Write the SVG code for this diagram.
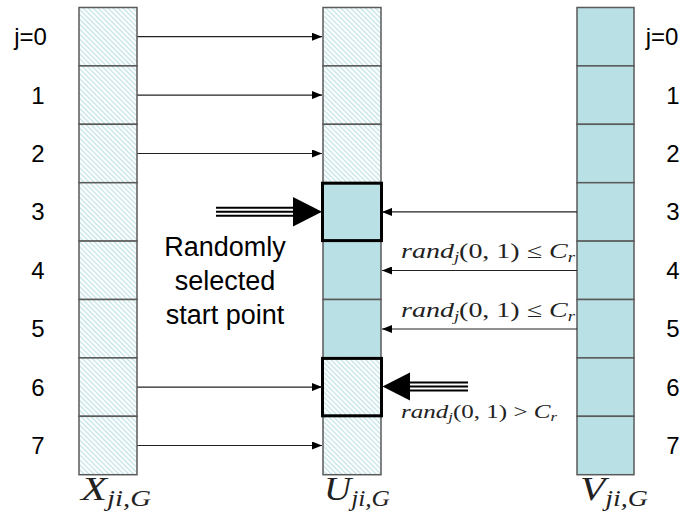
<svg xmlns="http://www.w3.org/2000/svg" width="688" height="522" viewBox="0 0 688 522">
<style>
.cell{stroke:#5a5a5a;stroke-width:1.5}
.h{fill:url(#hatch)}
.s{fill:#b9e0e4}
.thick{fill:none;stroke:#000;stroke-width:3}
.lab{font-family:"Liberation Sans",Arial,sans-serif;font-size:24px;fill:#000;text-anchor:middle}
.big{font-family:"Liberation Sans",Arial,sans-serif;font-size:27px;fill:#000;text-anchor:middle}
.conn{stroke:#222;stroke-width:1.2;fill:none;marker-end:url(#ah)}
.m{font-family:"Liberation Serif","Times New Roman",serif;fill:#222}
.i{font-style:italic}
</style>
<defs>
<pattern id="hatch" patternUnits="userSpaceOnUse" width="3.5" height="3.5" patternTransform="rotate(-45)">
<rect width="3.5" height="3.5" fill="#ffffff"/>
<rect x="0" y="0" width="1.3" height="3.5" fill="#c3e4e8"/>
</pattern>
<marker id="ah" markerWidth="10" markerHeight="8" refX="10" refY="4" orient="auto" markerUnits="userSpaceOnUse">
<path d="M0,0 L10,4 L0,8 Z" fill="#000"/>
</marker>
</defs>

<g id="col-X">
<rect class="cell h" x="79" y="7.5" width="58" height="58.4"/>
<rect class="cell h" x="79" y="65.9" width="58" height="58.4"/>
<rect class="cell h" x="79" y="124.3" width="58" height="58.4"/>
<rect class="cell h" x="79" y="182.7" width="58" height="58.4"/>
<rect class="cell h" x="79" y="241.1" width="58" height="58.4"/>
<rect class="cell h" x="79" y="299.5" width="58" height="58.4"/>
<rect class="cell h" x="79" y="357.9" width="58" height="58.4"/>
<rect class="cell h" x="79" y="416.3" width="58" height="58.4"/>
</g>

<g id="col-U">
<rect class="cell h" x="323" y="7.5" width="58" height="58.4"/>
<rect class="cell h" x="323" y="65.9" width="58" height="58.4"/>
<rect class="cell h" x="323" y="124.3" width="58" height="58.4"/>
<rect class="cell s" x="323" y="182.7" width="58" height="58.4"/>
<rect class="cell s" x="323" y="241.1" width="58" height="58.4"/>
<rect class="cell s" x="323" y="299.5" width="58" height="58.4"/>
<rect class="cell h" x="323" y="357.9" width="58" height="58.4"/>
<rect class="cell h" x="323" y="416.3" width="58" height="58.4"/>
<rect class="thick" x="322.5" y="183.2" width="59" height="57.4"/>
<rect class="thick" x="322.5" y="358.4" width="59" height="57.4"/>
</g>

<g id="col-V">
<rect class="cell s" x="577" y="7.5" width="57" height="58.4"/>
<rect class="cell s" x="577" y="65.9" width="57" height="58.4"/>
<rect class="cell s" x="577" y="124.3" width="57" height="58.4"/>
<rect class="cell s" x="577" y="182.7" width="57" height="58.4"/>
<rect class="cell s" x="577" y="241.1" width="57" height="58.4"/>
<rect class="cell s" x="577" y="299.5" width="57" height="58.4"/>
<rect class="cell s" x="577" y="357.9" width="57" height="58.4"/>
<rect class="cell s" x="577" y="416.3" width="57" height="58.4"/>
</g>

<g id="connectors">
<line class="conn" x1="137.5" y1="36.7" x2="322" y2="36.7"/>
<line class="conn" x1="137.5" y1="95.1" x2="322" y2="95.1"/>
<line class="conn" x1="137.5" y1="153.5" x2="322" y2="153.5"/>
<line class="conn" x1="137.5" y1="387.1" x2="322" y2="387.1"/>
<line class="conn" x1="137.5" y1="445.5" x2="322" y2="445.5"/>
<line class="conn" x1="577" y1="211.9" x2="382" y2="211.9"/>
<line class="conn" x1="577" y1="270.5" x2="382" y2="270.5"/>
<line class="conn" x1="577" y1="329" x2="382" y2="329"/>
</g>

<g id="start-arrow">
<g stroke="#000" stroke-width="2">
<line x1="216" y1="207.8" x2="294" y2="207.8"/>
<line x1="216" y1="211.8" x2="294" y2="211.8"/>
<line x1="216" y1="215.8" x2="294" y2="215.8"/>
</g>
<path d="M293,197 L322,211.8 L293,226.5 Z" fill="#000"/>
</g>

<g id="reject-arrow">
<g stroke="#000" stroke-width="2">
<line x1="409" y1="382.6" x2="468" y2="382.6"/>
<line x1="409" y1="386.6" x2="468" y2="386.6"/>
<line x1="409" y1="390.6" x2="468" y2="390.6"/>
</g>
<path d="M410,372.5 L382.5,386.6 L410,400.5 Z" fill="#000"/>
</g>

<g id="row-labels-left">
<text class="lab" x="30.5" y="45.2">j=0</text>
<text class="lab" x="38" y="103.6">1</text>
<text class="lab" x="38" y="162">2</text>
<text class="lab" x="38" y="220.4">3</text>
<text class="lab" x="38" y="278.8">4</text>
<text class="lab" x="38" y="337.2">5</text>
<text class="lab" x="38" y="395.6">6</text>
<text class="lab" x="38" y="454">7</text>
</g>
<g id="row-labels-right">
<text class="lab" x="662" y="45.2">j=0</text>
<text class="lab" x="673" y="103.6">1</text>
<text class="lab" x="673" y="162">2</text>
<text class="lab" x="673" y="220.4">3</text>
<text class="lab" x="673" y="278.8">4</text>
<text class="lab" x="673" y="337.2">5</text>
<text class="lab" x="673" y="395.6">6</text>
<text class="lab" x="673" y="454">7</text>
</g>

<g id="start-label">
<text class="big" x="225" y="256">Randomly</text>
<text class="big" x="225" y="290">selected</text>
<text class="big" x="225" y="324">start point</text>
</g>

<g id="cond-labels">
<text class="m" x="401" y="258" font-size="21" textLength="174" lengthAdjust="spacingAndGlyphs"><tspan class="i">rand</tspan><tspan class="i" font-size="14" dy="4">j</tspan><tspan dy="-4">(0, 1) ≤ </tspan><tspan class="i">C</tspan><tspan class="i" font-size="14" dy="4">r</tspan></text>
<text class="m" x="401" y="317" font-size="21" textLength="174" lengthAdjust="spacingAndGlyphs"><tspan class="i">rand</tspan><tspan class="i" font-size="14" dy="4">j</tspan><tspan dy="-4">(0, 1) ≤ </tspan><tspan class="i">C</tspan><tspan class="i" font-size="14" dy="4">r</tspan></text>
<text class="m" x="401" y="418" font-size="18" textLength="156" lengthAdjust="spacingAndGlyphs"><tspan class="i">rand</tspan><tspan class="i" font-size="12" dy="3">j</tspan><tspan dy="-3">(0, 1) &gt; </tspan><tspan class="i">C</tspan><tspan class="i" font-size="12" dy="3">r</tspan></text>
</g>

<g id="col-labels">
<text class="m" x="81" y="500" font-size="34" textLength="70" lengthAdjust="spacingAndGlyphs"><tspan class="i">X</tspan><tspan class="i" font-size="23" dy="6">ji,G</tspan></text>
<text class="m" x="324" y="500" font-size="34" textLength="66" lengthAdjust="spacingAndGlyphs"><tspan class="i">U</tspan><tspan class="i" font-size="23" dy="6">ji,G</tspan></text>
<text class="m" x="580" y="500" font-size="34" textLength="68" lengthAdjust="spacingAndGlyphs"><tspan class="i">V</tspan><tspan class="i" font-size="23" dy="6">ji,G</tspan></text>
</g>
</svg>
